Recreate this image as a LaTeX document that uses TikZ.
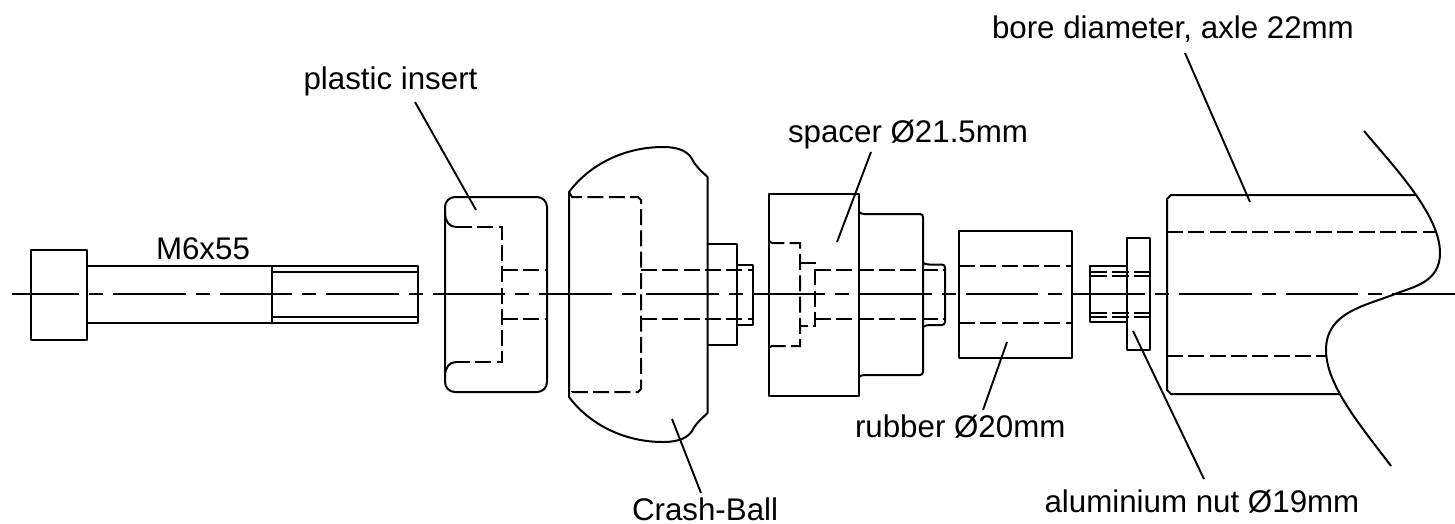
\documentclass[tikz,border=0pt]{standalone}
\usepackage{fontspec}
\setmainfont{Liberation Sans}
\tikzset{
  x=1pt,y=-1pt,
  body/.style={line width=2pt,line join=round},
  hidden/.style={line width=2pt,dash pattern=on 16pt off 5.3pt},
  centre/.style={line width=1.9pt,dash pattern=on 72.6pt off 10pt on 14pt off 10pt,dash phase=5.6pt},
  leader/.style={line width=1.9pt},
  lab/.style={anchor=base west,inner sep=0pt,outer sep=0pt,font=\fontsize{31.3}{36}\selectfont,text=black}
}
\begin{document}
\begin{tikzpicture}
\useasboundingbox (0,0) rectangle (1455,523);
% centre line
\draw[centre] (12,294.3) -- (1455,294.3);
% bolt
\draw[body] (31,250) rectangle (87,340);
\draw[body] (87,266) -- (418,266) -- (418,323) -- (87,323);
\draw[body] (272,266) -- (272,323);
\draw[body] (272,271.5) -- (418,271.5) (272,317) -- (418,317);
% plastic insert
\draw[body,rounded corners=10pt] (445,197) rectangle (547,392);
\draw[body] (445,213) .. controls (445,221) and (449,227) .. (456,227);
\draw[body] (445,376) .. controls (445,368) and (449,362) .. (456,362);
\draw[hidden] (456,227) -- (502,227) -- (502,362) -- (456,362);
\draw[hidden] (502,270) -- (547,270) (502,319) -- (547,319);
% crash ball
\draw[body] (569,192) -- (569,397)
  .. controls (590,425) and (625,442) .. (663,442)
  .. controls (680,442) and (688,437) .. (692,431)
  .. controls (695,425) and (698,422) .. (707.5,413)
  -- (707.5,177)
  .. controls (698,168) and (695,165) .. (692,159)
  .. controls (688,152) and (680,147) .. (663,147)
  .. controls (625,147) and (590,164) .. (569,192) -- cycle;
\draw[hidden] (569,192) -- (572,197) -- (638,197) -- (641,200) -- (641,389) -- (638,392) -- (572,392) -- (569,397);
\draw[hidden] (641,270) -- (753,270) (641,319) -- (753,319);
\draw[body] (707.5,244) -- (737,244) -- (737,345) -- (707.5,345);
\draw[body] (737,265) -- (753,265) -- (753,325) -- (737,325);
% spacer
\draw[body] (769,194) rectangle (859,396);
\draw[body,rounded corners=3pt] (859,212) -- (861,214) -- (923,214) -- (923,375) -- (861,375) -- (859,377);
\draw[body,rounded corners=3pt] (923,263) -- (926,264.5) -- (945,264.5) -- (945,325) -- (926,325) -- (923,327);
\draw[hidden] (769,241) -- (772,243) -- (800,243) -- (800,346) -- (772,346) -- (769,348);
\draw[hidden] (800,263) -- (815,263) -- (815,326) -- (800,326);
\draw[hidden] (815,270) -- (945,270) (815,319) -- (945,319);
% rubber
\draw[body] (959,231) rectangle (1072,358);
\draw[hidden] (959,266) -- (1072,266) (959,323) -- (1072,323);
% aluminium nut
\draw[body] (1127,238) rectangle (1150,350);
\draw[body] (1127,266) -- (1090,266) -- (1090,322) -- (1127,322);
\draw[hidden,dash pattern=on 16.5pt off 5.5pt] (1090,272) -- (1150,272) (1090,276) -- (1150,276)
  (1090,313) -- (1150,313) (1090,317) -- (1150,317);
% axle
\draw[body] (1415,195) -- (1171,195) -- (1167,199) -- (1167,390) -- (1171,394) -- (1340,394);
\draw[hidden] (1167,232) -- (1437,232) (1167,356) -- (1327,356);
\draw[body] (1364,131)
  .. controls (1395,168) and (1440,215) .. (1440,253)
  .. controls (1440,283) and (1412,287) .. (1395,294)
  .. controls (1365,306) and (1326,312) .. (1326,350)
  .. controls (1326,385) and (1360,425) .. (1391,466);
% labels
\node[lab] (insert) at (303.5,89) {plastic insert};
\node[lab] (bolt) at (156,259) {M6x55};
\node[lab] (ball) at (632,520.5) {Crash-Ball};
\node[lab] (spacer) at (788,142) {spacer Ø21.5mm};
\node[lab] (rubber) at (855,437) {rubber Ø20mm};
\node[lab] (nut) at (1044.5,512.7) {aluminium nut Ø19mm};
\node[lab] (bore) at (992,38) {bore diameter, axle 22mm};
% leaders
\coordinate (aInsert) at (476,210); \coordinate (bInsert) at (415,102);
\coordinate (aBall) at (672,419); \coordinate (bBall) at (701,493);
\coordinate (aSpacer) at (837,242); \coordinate (bSpacer) at (871,152);
\coordinate (aRubber) at (1007,342); \coordinate (bRubber) at (983,410);
\coordinate (aNut) at (1133,331); \coordinate (bNut) at (1204,479);
\coordinate (aBore) at (1250,202); \coordinate (bBore) at (1185,53);
\draw[leader] (bInsert) -- (aInsert);
\draw[leader] (bBall) -- (aBall);
\draw[leader] (bSpacer) -- (aSpacer);
\draw[leader] (bRubber) -- (aRubber);
\draw[leader] (bNut) -- (aNut);
\draw[leader] (bBore) -- (aBore);
\end{tikzpicture}
\end{document}
